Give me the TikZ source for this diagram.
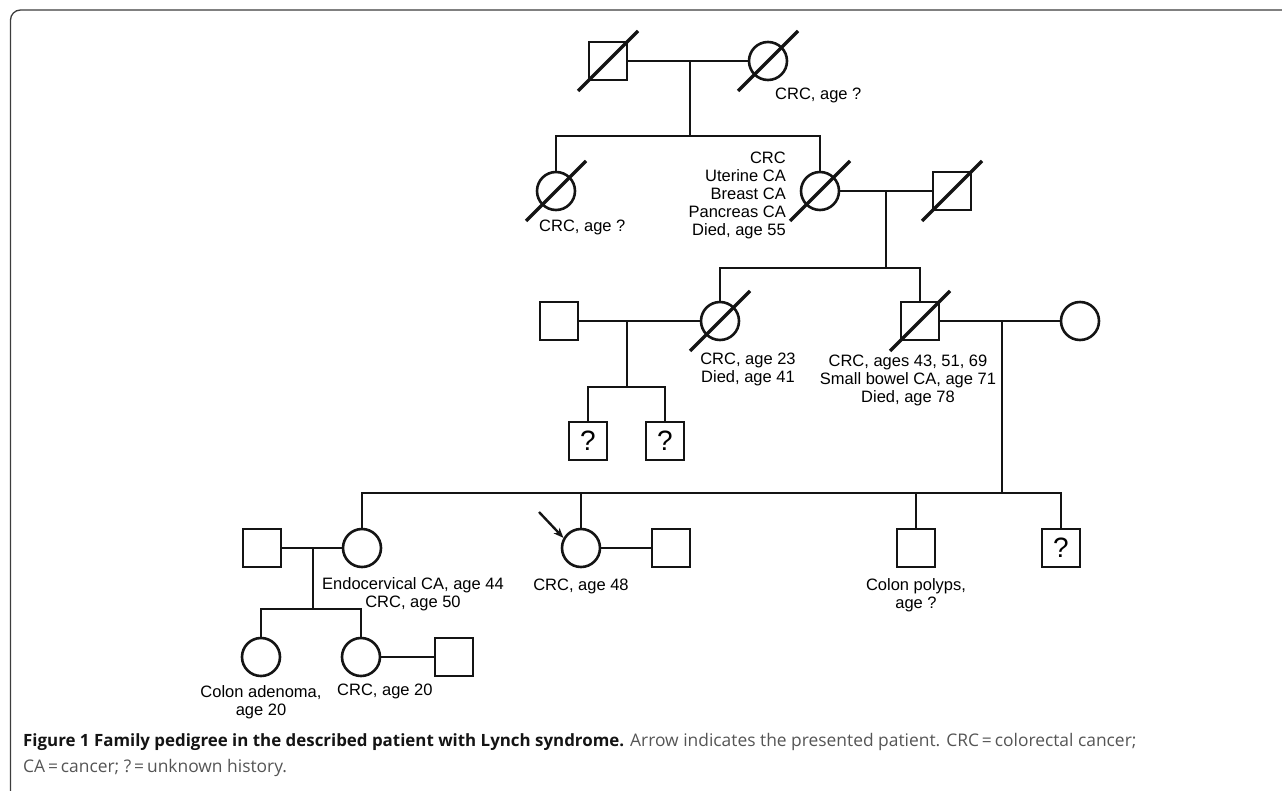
\documentclass[tikz,border=0pt]{standalone}
\usepackage{fontspec}
\setmainfont{Liberation Sans}
\newfontfamily\legende{Open Sans}
\usepackage{tikz}
\usetikzlibrary{arrows.meta,positioning}
\definecolor{noir}{RGB}{20,20,20}
\definecolor{cadre}{RGB}{60,60,60}
\definecolor{gris}{RGB}{85,85,85}

\begin{document}
\begin{tikzpicture}[x=1pt, y=-1pt, font=\fontsize{16.5}{18}\selectfont,
  homme/.style={draw=noir, line width=2.6pt, minimum size=38pt, inner sep=0pt, font=\fontsize{28}{30}\selectfont},
  femme/.style={draw=noir, circle, line width=2.6pt, minimum size=38pt, inner sep=0pt},
  lien/.style={noir, line width=1.8pt},
  barre/.style={noir, line width=3.4pt},
  pointe/.style={noir, line width=2.4pt, -{Stealth[length=10pt,width=8pt]}},
  info/.style={inner sep=0pt, align=center},
  legendetxt/.style={anchor=base west, inner sep=0pt, text=gris, font=\legende\fontsize{17.4}{24}\selectfont}]
\useasboundingbox (0,0) rectangle (1282,790);
\draw[cadre, line width=1.3pt, rounded corners=10pt] (10.5,800) |- (1290,10);

\node[homme] (i1) at (608,61) {};
\node[femme] (i2) at (768,61) {};
\node[femme] (ii1) at (556,191) {};
\node[femme] (ii2) at (820,191) {};
\node[homme] (ii3) at (952,191) {};
\node[homme] (iii1) at (559,321) {};
\node[femme] (iii2) at (720,321) {};
\node[homme] (iii3) at (920,321) {};
\node[femme] (iii4) at (1080,321) {};
\node[homme] (iv1) at (588,441) {?};
\node[homme] (iv2) at (665,441) {?};
\node[homme] (iv3) at (262,548) {};
\node[femme] (iv4) at (362,548) {};
\node[femme] (iv5) at (581,548) {};
\node[homme] (iv6) at (671,548) {};
\node[homme] (iv7) at (916,548) {};
\node[homme] (iv8) at (1061,548) {?};
\node[femme] (v1) at (261,657) {};
\node[femme] (v2) at (361,657) {};
\node[homme] (v3) at (454,657) {};

\coordinate (u1) at (690,61);   \coordinate (s1) at (690,136);
\coordinate (u2) at (886,191);  \coordinate (s2) at (886,268);
\coordinate (u3) at (627,321);  \coordinate (s3) at (627,387);
\coordinate (u4) at (1002,321); \coordinate (s4) at (1002,493);
\coordinate (u5) at (313,548);  \coordinate (s5) at (313,609);
\coordinate (fleche) at (539,512);

\draw[lien] (i1) -- (i2);
\draw[lien] (ii2) -- (ii3);
\draw[lien] (iii1) -- (iii2);
\draw[lien] (iii3) -- (iii4);
\draw[lien] (iv3) -- (iv4);
\draw[lien] (iv5) -- (iv6);
\draw[lien] (v2) -- (v3);
\foreach \u/\s in {u1/s1,u2/s2,u3/s3,u4/s4,u5/s5}
  \draw[lien] (\u) -- (\s);
\draw[lien] (ii1.north) |- (s1) -| (ii2.north);
\draw[lien] (iii2.north) |- (s2) -| (iii3.north);
\draw[lien] (iv1.north) |- (s3) -| (iv2.north);
\draw[lien] (iv4.north) |- (s4) -| (iv8.north);
\draw[lien] (iv5.north) -- (iv5.north |- s4);
\draw[lien] (iv7.north) -- (iv7.north |- s4);
\draw[lien] (v1.north) |- (s5) -| (v2.north);

\foreach \p in {i1,i2,ii1,ii2,ii3,iii2,iii3}
  \draw[barre] ([shift={(-30,30)}]\p.center) -- ([shift={(30,-30)}]\p.center);
\draw[pointe] (fleche) -- (iv5.150);

\node[info, anchor=north west] (n-i2) at (775,88) {CRC, age ?};
\node[info, anchor=north west] (n-ii1) at (539,220) {CRC, age ?};
\node[info, anchor=north east, align=right] (n-ii2) at (786,152) {CRC\\Uterine CA\\Breast CA\\Pancreas CA\\Died, age 55};
\node[info, anchor=north] (n-iii2) at (748,353) {CRC, age 23\\Died, age 41};
\node[info, anchor=north] (n-iii3) at (908,355) {CRC, ages 43, 51, 69\\Small bowel CA, age 71\\Died, age 78};
\node[info, anchor=north] (n-iv4) at (413,577) {Endocervical CA, age 44\\CRC, age 50};
\node[info, below=10pt of iv5] (n-iv5) {CRC, age 48};
\node[info, below=10pt of iv7] (n-iv7) {Colon polyps,\\age ?};
\node[info, below=8pt of v1] (n-v1) {Colon adenoma,\\age 20};
\node[info, anchor=north west] (n-v2) at (337,684) {CRC, age 20};

\node[legendetxt] (legende1) at (23,746)
  {{\bfseries\color{noir}\fontsize{16.9}{24}\selectfont Figure 1 Family pedigree in the described patient with Lynch syndrome.} Arrow indicates the presented patient. CRC\,=\,colorectal cancer;};
\node[legendetxt] (legende2) at (23,772) {CA\,=\,cancer; ?\,=\,unknown history.};
\end{tikzpicture}
\end{document}
